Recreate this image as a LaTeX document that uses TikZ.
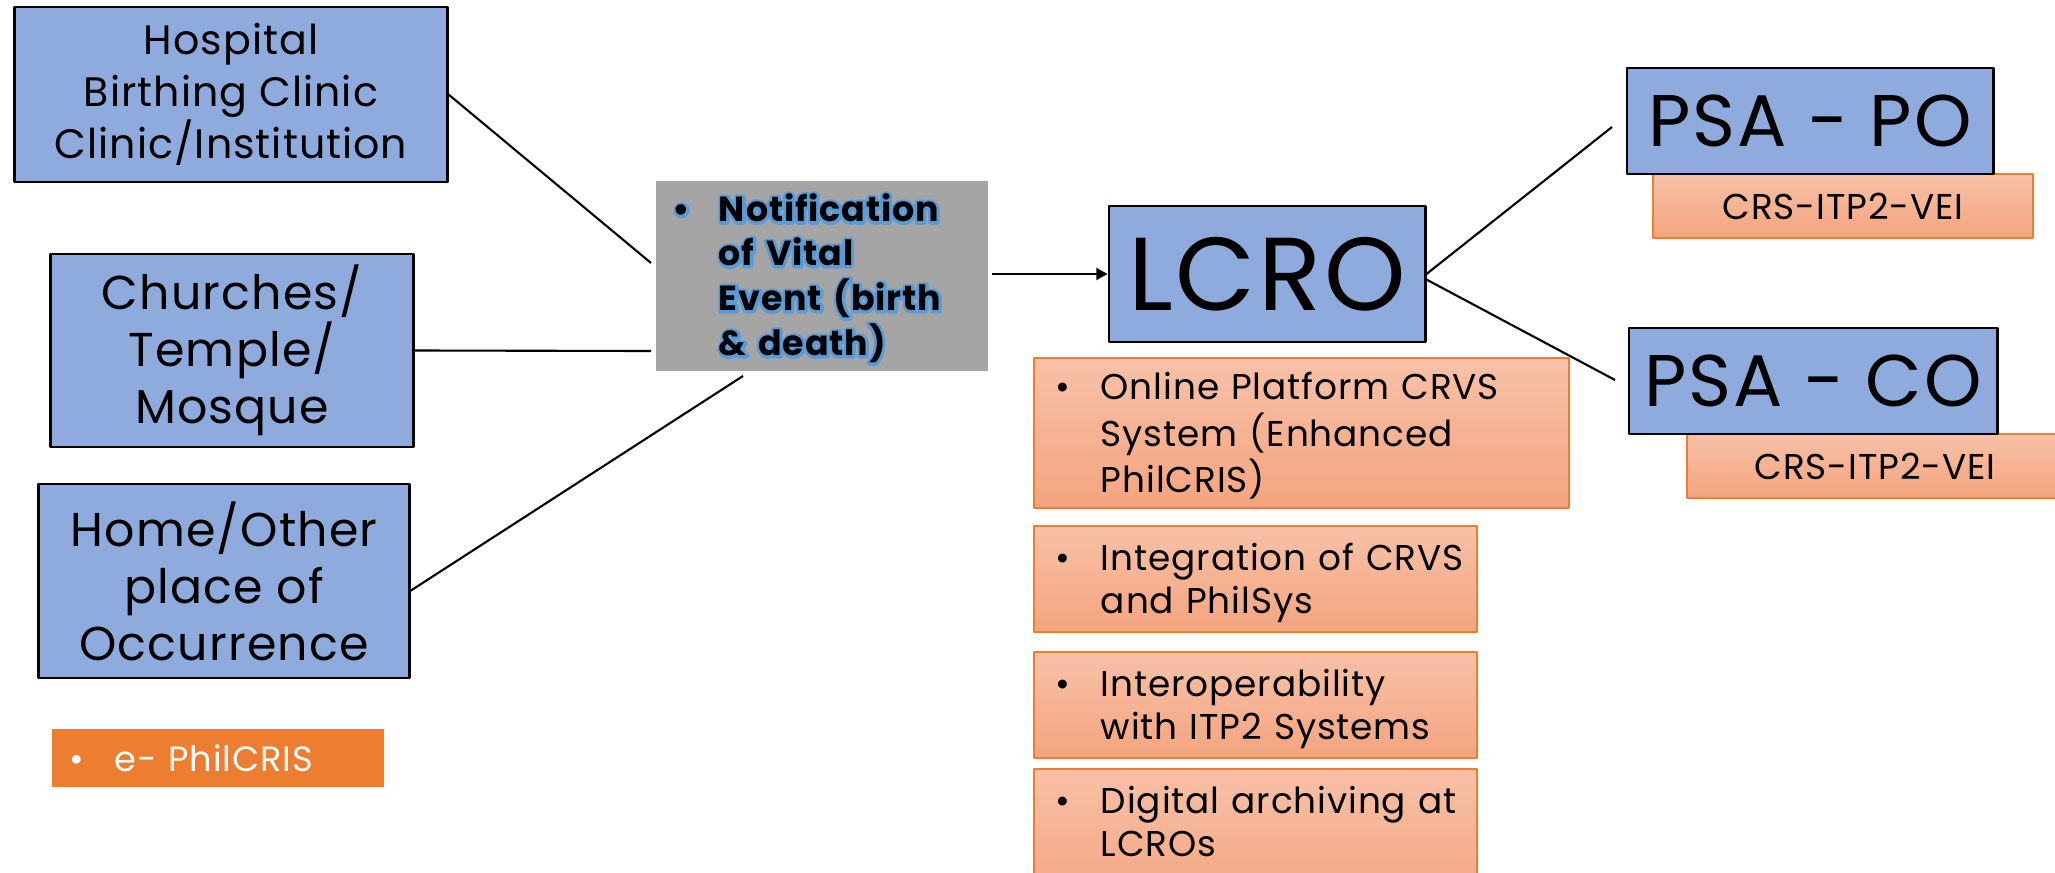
\documentclass[tikz,border=0pt]{standalone}
\usepackage{fontspec}
\setmainfont{Poppins}[LetterSpace=2.5]
\usetikzlibrary{arrows.meta}
\definecolor{placeblue}{HTML}{8FAADC}
\definecolor{notegray}{HTML}{A5A5A5}
\definecolor{accentorange}{HTML}{ED7D31}
\definecolor{peachtop}{HTML}{F7C1A8}
\definecolor{peachbot}{HTML}{F4A47F}
\definecolor{glowblue}{HTML}{5B9BD5}
\newcommand{\bitem}[2][4.5mm]{\makebox[#1][l]{\textbullet}\begin{tabular}[t]{@{}l@{}}\rule{0pt}{3.9mm}#2\end{tabular}}
\newcommand{\glowon}{\special{pdf:literal direct 1 Tr 1.6 w}}
\newcommand{\glowoff}{\special{pdf:literal direct 0 Tr}}
\newcommand{\notelines}{\bitem[4.6mm]{Notification\\of Vital\\Event (birth\\\& death)}}
\begin{document}
\begin{tikzpicture}[x=0.01cm, y=-0.01cm, line join=round, >={Triangle[length=3.2pt,width=3.4pt]}, line width=0.6pt]
\tikzset{
  place/.style={draw=black, fill=placeblue, line width=0.8pt, align=center, inner sep=0pt},
  sysbox/.style={draw=accentorange, top color=peachtop, bottom color=peachbot, line width=0.6pt, inner sep=0pt},
  listbox/.style={sysbox, inner xsep=2.2mm, align=left, font=\fontsize{10.2}{12.2}\selectfont},
  notetext/.style={inner xsep=1.7mm, inner ysep=0pt, text width=29.8mm, align=left, font=\fontsize{9.9}{12.5}\selectfont\bfseries}
}
\useasboundingbox (0,0) rectangle (2055,873);

\node[place, minimum width=43.2mm, minimum height=17.5mm, font=\fontsize{11.7}{14.8}\selectfont] (hospital) at (231,94.5) {Hospital\\Birthing Clinic\\Clinic/Institution};
\node[place, minimum width=36.2mm, minimum height=19.3mm, font=\fontsize{13.5}{16.2}\selectfont] (churches) at (232,350.5) {Churches/\\Temple/\\Mosque};
\node[place, minimum width=37mm, minimum height=19.4mm, font=\fontsize{13.5}{16.2}\selectfont] (home) at (224,581) {Home/Other\\place of\\Occurrence};
\node[fill=accentorange, text=white, inner xsep=1.8mm, inner ysep=0pt, text width=29.6mm, minimum height=5.8mm, font=\fontsize{10}{11}\selectfont] (ephil) at (218,758) {\bitem[4.5mm]{e- PhilCRIS}};

\node[fill=notegray, minimum width=33.2mm, minimum height=19mm] (note) at (822,276) {};
\node[notetext, text=glowblue] (noteglow) at (note) {\glowon\notelines\glowoff};
\node[notetext] (notelabel) at (note) {\notelines};

\node[place, minimum width=31.6mm, minimum height=13.6mm, font=\fontsize{29.5}{34}\selectfont] (lcro) at (1267,274) {LCRO};

\node[sysbox, minimum width=38mm, minimum height=6.4mm, font=\fontsize{10.2}{12}\selectfont] (crspo) at (1843,206) {CRS-ITP2-VEI};
\node[place, minimum width=36.6mm, minimum height=10.6mm, font=\fontsize{20.8}{24}\selectfont] (psapo) at (1810,121) {PSA - PO};
\node[sysbox, minimum width=37.6mm, minimum height=6.4mm, font=\fontsize{10.2}{12}\selectfont] (crsco) at (1875,466) {CRS-ITP2-VEI};
\node[place, minimum width=36.8mm, minimum height=10.6mm, font=\fontsize{20.8}{24}\selectfont] (psaco) at (1813,381) {PSA - CO};

\node[listbox, text width=49.1mm, minimum height=15mm] (online) at (1301.5,433) {\bitem{Online Platform CRVS\\System (Enhanced\\PhilCRIS)}};
\node[listbox, text width=39.9mm, minimum height=10.6mm] (philsys) at (1255.5,579) {\bitem{Integration of CRVS\\and PhilSys}};
\node[listbox, text width=39.9mm, minimum height=10.6mm] (interop) at (1255.5,705) {\bitem{Interoperability\\with ITP2 Systems}};
\node[listbox, text width=39.9mm, minimum height=14mm] (archive) at (1255.5,839) {\bitem{Digital archiving at\\LCROs\rule[-4.7mm]{0pt}{1mm}}};

\coordinate (hosp-in) at (651,263);
\coordinate (church-in) at (651,351);
\coordinate (home-in) at (743,376);
\coordinate (note-out) at (992,274);
\coordinate (po-in) at (1612,127);
\coordinate (co-in) at (1615,380);
\draw (hospital.east) -- (hosp-in);
\draw (churches.east) -- (church-in);
\draw (home.-3) -- (home-in);
\draw[->] (note-out) -- (lcro.west);
\draw (lcro.east) -- (po-in);
\draw (lcro.-2) -- (co-in);
\end{tikzpicture}
\end{document}
